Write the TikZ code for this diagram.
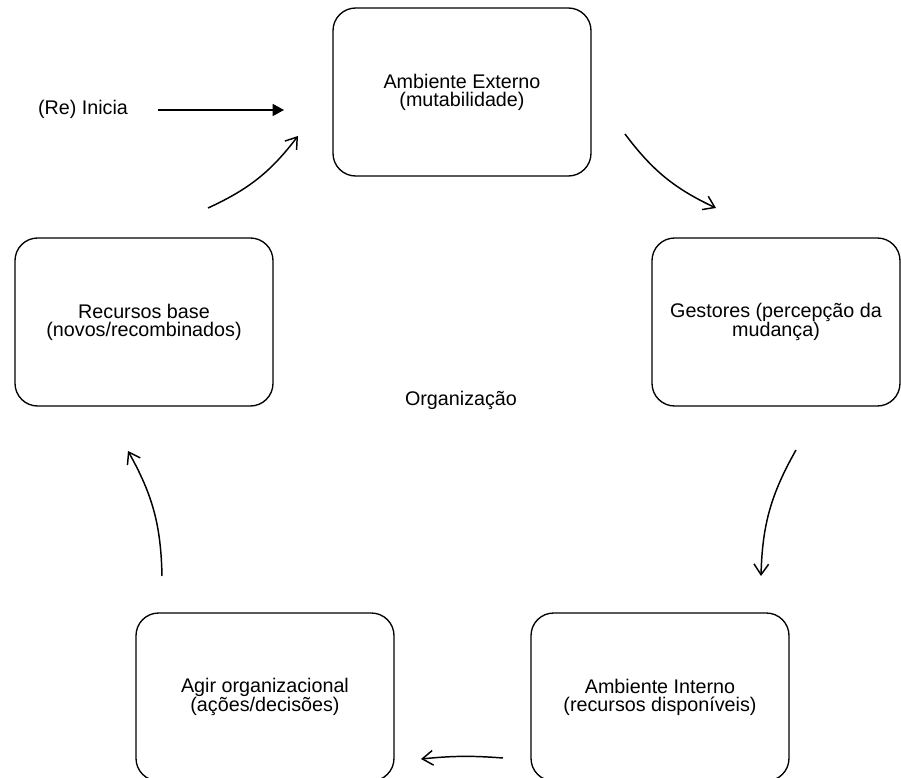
\documentclass[tikz,border=0pt]{standalone}
\usepackage{fontspec}
\setmainfont{Liberation Sans}
\usetikzlibrary{arrows.meta}
\begin{document}
\lineskiplimit=-30pt\relax
\begin{tikzpicture}[x=0.75pt,y=-0.75pt,
  lbl/.style={font=\fontsize{14.8pt}{13.6pt}\selectfont, inner sep=0pt, align=center},
  card/.style={lbl, draw=black, line width=1pt, rounded corners=17pt,
    minimum width=193.5pt, minimum height=126pt},
  flow/.style={line width=1.1pt, -{Straight Barb[length=8pt,width=11pt,line width=1.1pt]}},
  start/.style={line width=1.1pt, -{Triangle[length=8.5pt,width=9pt]}}]
\clip (0,0) rectangle (901,778);
\fill[white] (0,0) rectangle (901,778);

% the five stages of the cycle
\node[card] (ext) at (462,92) {Ambiente Externo\\(mutabilidade)};
\node[card, minimum width=186pt] (ges) at (776,322) {Gestores (percepção da\\mudança)};
\node[card] (int) at (660,697) {Ambiente Interno\\(recursos disponíveis)};
\node[card] (agir) at (265,697) {Agir organizacional\\(ações/decisões)};
\node[card] (rec) at (144,322) {Recursos base\\(novos/recombinados)};

% free labels
\node[lbl] (org) at (461,400) {Organização};
\node[lbl] (ini) at (83,109) {(Re) Inicia};

% arrow end points
\coordinate (s0) at (158,110); \coordinate (e0) at (284,110);
\coordinate (s1) at (625,134); \coordinate (e1) at (716,208);
\coordinate (s2) at (796,450); \coordinate (e2) at (761,576);
\coordinate (s3) at (503,758); \coordinate (e3) at (421,759);
\coordinate (s4) at (162,576); \coordinate (e4) at (128,451);
\coordinate (s5) at (208,208); \coordinate (e5) at (298,136);

% connectors
\draw[start] (s0) -- (e0);
\draw[flow] (s1) to[bend right=14] (e1);
\draw[flow] (s2) to[bend right=14] (e2);
\draw[flow] (s3) to[bend right=5] (e3);
\draw[flow] (s4) to[bend right=14] (e4);
\draw[flow] (s5) to[bend right=14] (e5);
\end{tikzpicture}
\end{document}
